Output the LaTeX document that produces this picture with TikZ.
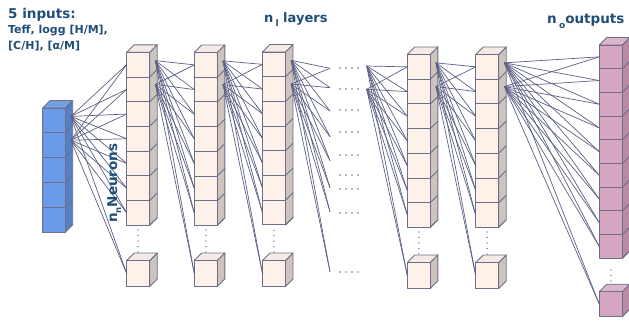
\documentclass[tikz,border=0pt]{standalone}
\usepackage{fontspec}
\setmainfont{DejaVu Sans}
\definecolor{edgec}{RGB}{108,110,138}
\definecolor{linkc}{RGB}{92,96,130}
\definecolor{txtc}{RGB}{31,78,121}
\definecolor{blufront}{RGB}{106,155,232}
\definecolor{bluside}{RGB}{86,127,196}
\definecolor{blutop}{RGB}{118,160,228}
\definecolor{hidfront}{RGB}{253,241,233}
\definecolor{hidside}{RGB}{206,196,190}
\definecolor{hidtop}{RGB}{246,235,228}
\definecolor{pinkfront}{RGB}{214,166,193}
\definecolor{pinkside}{RGB}{184,138,163}
\definecolor{pinktop}{RGB}{222,182,204}
\tikzset{
  cubeedge/.style={draw=edgec, line width=0.9pt, line join=round},
  link/.style={draw=linkc, line width=0.7pt},
  lbl/.style={text=txtc, inner sep=0pt, anchor=base west},
}
\def\cdx{7.5}\def\cdy{7.5}
% name, x, ytop, n, h, w, colour prefix
\newcommand\nncol[7]{%
  \pgfmathsetmacro\nnbot{#3+#4*#5}
  \filldraw[cubeedge, fill=#7side] ({#2+#6},{#3}) -- ++(\cdx,-\cdy) -- ({#2+#6+\cdx},{\nnbot-\cdy}) -- ({#2+#6},{\nnbot}) -- cycle;
  \filldraw[cubeedge, fill=#7top] ({#2},{#3}) -- ++(\cdx,-\cdy) -- ++(#6,0) -- ({#2+#6},{#3}) -- cycle;
  \foreach \k in {1,...,#4}{
    \filldraw[cubeedge, fill=#7front] ({#2},{#3+(\k-1)*#5}) rectangle ++(#6,#5);
    \draw[cubeedge] ({#2+#6},{#3+\k*#5}) -- ++(\cdx,-\cdy);
    \coordinate (#1-\k) at ({#2},{#3+(\k-0.5)*#5});
  }
  \coordinate (#1-s1) at ({#2+#6+0.75*\cdx},{#3+0.5*#5-4});
  \coordinate (#1-s2) at ({#2+#6+0.75*\cdx},{#3+1.5*#5-5});
}
% name, x, ytop of cube, h, w, colour prefix
\newcommand\nnbottom[6]{%
  \filldraw[cubeedge, fill=#6side] ({#2+#5},{#3}) -- ++(\cdx,-\cdy) -- ++(0,#4) -- ({#2+#5},{#3+#4}) -- cycle;
  \filldraw[cubeedge, fill=#6top] ({#2},{#3}) -- ++(\cdx,-\cdy) -- ++(#5,0) -- ({#2+#5},{#3}) -- cycle;
  \filldraw[cubeedge, fill=#6front] ({#2},{#3}) rectangle ++(#5,#4);
  \coordinate (#1-b) at ({#2},{#3+#4/2});
}
% vertical dots: x, y0, count
\newcommand\nnvdots[3]{%
  \foreach \j in {1,...,#3} \fill[edgec] ({#1},{#2+(\j-1)*5.5}) circle (0.75);
}
\begin{document}
\begin{tikzpicture}[x=1pt,y=-1pt]
\useasboundingbox (0,0) rectangle (629,322);
% input
\nncol{in}{42.7}{108}{5}{24.8}{22.5}{blu}
% hidden layers
\nncol{ha}{126.7}{52.3}{7}{24.7}{23}{hid}
\nnbottom{ha}{126.7}{260.5}{26}{23}{hid}
\nnvdots{138.2}{230}{5}
\nncol{hb}{194.3}{52.5}{7}{24.7}{23}{hid}
\nnbottom{hb}{194.3}{260.5}{26}{23}{hid}
\nnvdots{205.8}{230}{5}
\nncol{hc}{262.5}{52}{7}{24.7}{23}{hid}
\nnbottom{hc}{262.5}{260.5}{26}{23}{hid}
\nnvdots{274}{230}{5}
\nncol{hd}{407.3}{54.5}{7}{24.7}{23}{hid}
\nnbottom{hd}{407.3}{262.5}{26}{23}{hid}
\nnvdots{418.8}{232}{5}
\nncol{he}{475.7}{54.5}{7}{24.7}{23}{hid}
\nnbottom{he}{475.7}{262.5}{26}{23}{hid}
\nnvdots{487.2}{232}{5}
% output
\nncol{out}{599.3}{45}{9}{23.7}{23}{pink}
\nnbottom{out}{599.3}{291.7}{25}{23}{pink}
\nnvdots{610.8}{270}{3}
% gap
\foreach \k/\y in {1/68.3,2/87.7,3/111,4/136.7,5/160.7,6/187.7,7/211.7,b/271.7}
  \coordinate (g-\k) at (330,\y);
\coordinate (g-s1) at (366.7,66);
\coordinate (g-s2) at (366.7,89.3);
\foreach \y in {68,89,110,132,155,175,189,213,272}
  \foreach \x in {340,346,352,358}
    \fill[edgec] (\x,\y) circle (0.8);
% links
\foreach \s in {s1,s2}{
  \foreach \k in {1,...,7,b}{
    \draw[link] (in-\s) -- (ha-\k);
    \draw[link] (ha-\s) -- (hb-\k);
    \draw[link] (hb-\s) -- (hc-\k);
    \draw[link] (hc-\s) -- (g-\k);
    \draw[link] (g-\s) -- (hd-\k);
    \draw[link] (hd-\s) -- (he-\k);
  }
  \foreach \k in {1,...,9,b}
    \draw[link] (he-\s) -- (out-\k);
}
% labels
\node[lbl, font=\bfseries\fontsize{13.5}{15}\selectfont] (t1) at (8,18.5) {5 inputs:};
\node[lbl, font=\bfseries\fontsize{11}{12}\selectfont] (t2) at (8,33) {Teff, logg [H/M],};
\node[lbl, font=\bfseries\fontsize{11}{12}\selectfont] (t3) at (8,49) {[C/H], [α/M]};
\node[lbl, font=\bfseries\fontsize{13}{15}\selectfont] (t4) at (264,22) {n\,\raisebox{-4pt}{\fontsize{9}{9}\selectfont l}\ layers};
\node[lbl, font=\bfseries\fontsize{13.5}{15}\selectfont] (t5) at (547,23) {n\,\raisebox{-5pt}{\fontsize{9}{9}\selectfont o}outputs};
\node[lbl, rotate=90, font=\bfseries\fontsize{13.5}{14}\selectfont] (t6) at (117,223) {n\raisebox{-4pt}{\fontsize{8.5}{8}\selectfont n}Neurons};
\end{tikzpicture}
\end{document}
